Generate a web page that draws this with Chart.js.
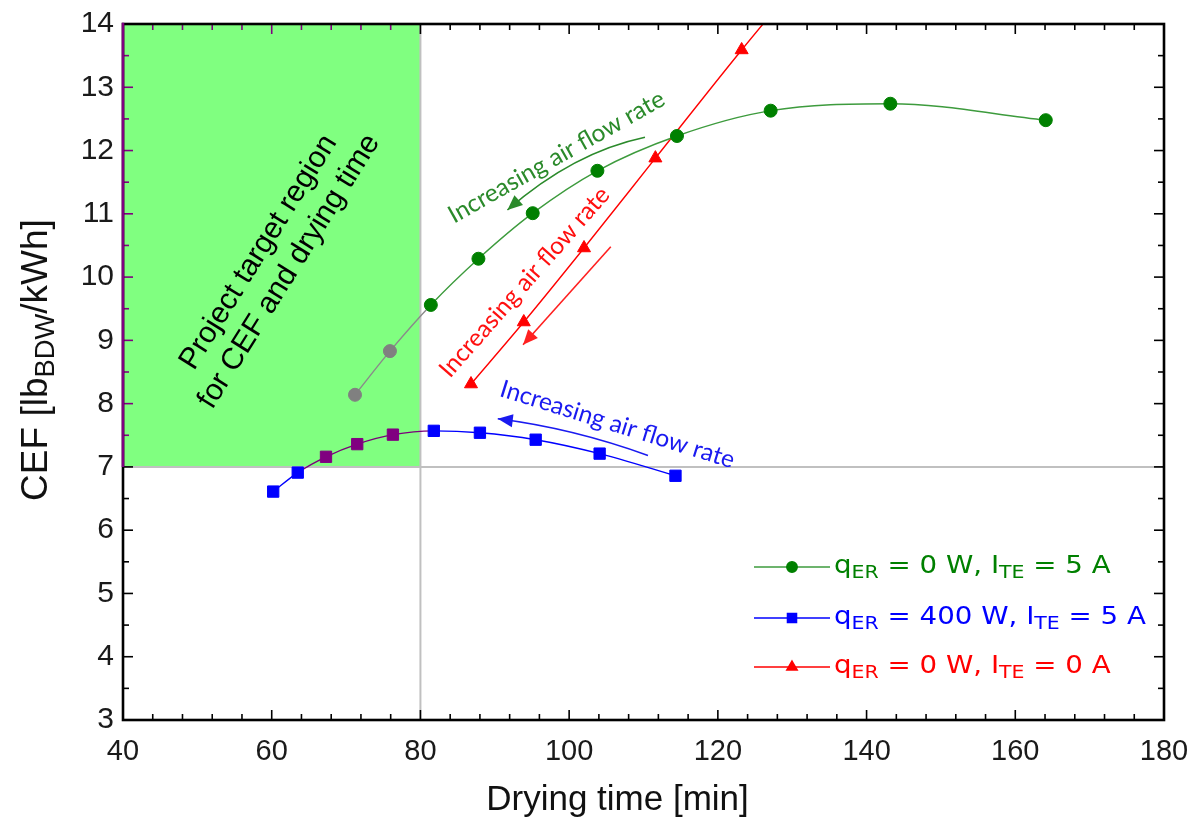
<!DOCTYPE html>
<html>
<head>
<meta charset="utf-8">
<title>CEF vs drying time</title>
<script src="https://cdn.jsdelivr.net/npm/chart.js@4.4.1/dist/chart.umd.min.js"></script>
<style>
  html, body { margin: 0; padding: 0; background: #fff; }
  canvas { display: block; }
</style>
</head>
<body>
<canvas id="cef" width="1189" height="821"></canvas>
<script>
// drying time [min] and CEF [lb_BDW/kWh] for each configuration
const timeTE5 = [71.2, 75.9, 81.4, 87.8, 95.1, 103.8, 114.5, 127.1, 143.2, 164.1];
const cefTE5  = [8.14, 8.83, 9.56, 10.29, 11.01, 11.68, 12.23, 12.63, 12.74, 12.48];

const timeER400 = [60.2, 63.5, 67.3, 71.5, 76.3, 81.8, 88.0, 95.5, 104.1, 114.3];
const cefER400  = [6.61, 6.91, 7.16, 7.36, 7.51, 7.57, 7.54, 7.43, 7.21, 6.86];

const timeTE0 = [86.8, 93.9, 102.0, 111.6, 123.2, 137.5];
const cefTE0  = [8.31, 9.29, 10.46, 11.88, 13.59, 15.6];

// legend labels: [text, subscript?]
const labelTE5   = [['q', 0], ['ER', 1], [' = 0 W, I', 0], ['TE', 1], [' = 5 A', 0]];
const labelER400 = [['q', 0], ['ER', 1], [' = 400 W, I', 0], ['TE', 1], [' = 5 A', 0]];
const labelTE0   = [['q', 0], ['ER', 1], [' = 0 W, I', 0], ['TE', 1], [' = 0 A', 0]];

// project target: drying time <= 80 min and CEF >= 7
const targetTime = 80;
const targetCef = 7;

const xRange = { min: 40, max: 180, step: 20, minor: 4 };
const yRange = { min: 3, max: 14, step: 1, minor: 0.5 };

const SANS = '"Liberation Sans", Arial, sans-serif';
const NOTE = 'Lato, "Open Sans", sans-serif';
const LEG = '"DejaVu Sans", sans-serif';

const inTarget = (x, y) => x <= targetTime && y >= targetCef;
const pts = (xs, ys) => xs.map((x, i) => ({ x, y: ys[i] }));

function segColor(base, alt) {
  return ctx => {
    const a = ctx.p0.parsed, b = ctx.p1.parsed;
    return (inTarget(a.x, a.y) || inTarget(b.x, b.y)) ? alt : base;
  };
}

const series = [
  {
    data: pts(timeTE5, cefTE5), label: labelTE5, text: '#008000',
    line: '#3d9b3d', mark: '#008000', alt: '#8a8a8a', altMark: '#808080',
    style: 'circle', radius: 6.5
  },
  {
    data: pts(timeER400, cefER400), label: labelER400, text: '#0000ff',
    line: '#0000ff', mark: '#0000ff', alt: '#7a007a', altMark: '#800080',
    style: 'rect', radius: 8
  },
  {
    data: pts(timeTE0, cefTE0), label: labelTE0, text: '#ff0000',
    line: '#ff0000', mark: '#ff0000', alt: '#ff0000', altMark: '#ff0000',
    style: 'triangle', radius: 7.5
  }
];

// text and arrows placed in data coordinates
const notes = [
  { lines: ['Increasing air flow rate'], at: [98.3, 11.9], angle: -29.4, color: '#2b8a2b', font: '24.5px ' + NOTE },
  { lines: ['Increasing air flow rate'], at: [94.0, 9.92], angle: -48.7, color: '#ff1010', font: '24.5px ' + NOTE },
  { lines: ['Increasing air flow rate'], at: [106.5, 7.67], angle: 17.3, color: '#1a1af0', font: '24.5px ' + NOTE },
  { lines: ['Project target region', 'for CEF and drying time'], at: [60.3, 10.24], angle: -58, color: '#000', font: '30px ' + SANS, lh: 36 }
];
const arrows = [
  { from: [110.2, 12.21], via: [100.55, 11.97], to: [91.7, 11.06], color: '#2b8a2b' },
  { from: [105.6, 10.48], to: [93.8, 8.93], color: '#ff2020' },
  { from: [110.6, 7.18], via: [100.5, 7.61], to: [90.4, 7.76], color: '#1a1af0' }
];

const targetRegion = {
  id: 'targetRegion',
  beforeDatasetsDraw(chart) {
    const { ctx, chartArea: a, scales: { x, y } } = chart;
    const px = x.getPixelForValue(targetTime), py = y.getPixelForValue(targetCef);
    ctx.save();
    ctx.fillStyle = '#80ff80';
    ctx.fillRect(a.left, a.top, px - a.left, py - a.top);
    ctx.strokeStyle = '#c0c0c0';
    ctx.lineWidth = 2;
    ctx.beginPath();
    ctx.moveTo(px, a.top); ctx.lineTo(px, a.bottom);
    ctx.moveTo(a.left, py); ctx.lineTo(a.right, py);
    ctx.stroke();
    ctx.restore();
  }
};

function arrowHead(ctx, tip, dir, len, half) {
  const n = Math.hypot(dir[0], dir[1]);
  const ux = dir[0] / n, uy = dir[1] / n;
  ctx.beginPath();
  ctx.moveTo(tip[0], tip[1]);
  ctx.lineTo(tip[0] - ux * len - uy * half, tip[1] - uy * len + ux * half);
  ctx.lineTo(tip[0] - ux * len + uy * half, tip[1] - uy * len - ux * half);
  ctx.closePath();
  ctx.fill();
}

const annotations = {
  id: 'annotations',
  afterDatasetsDraw(chart) {
    const { ctx, scales: { x, y } } = chart;
    const P = v => [x.getPixelForValue(v[0]), y.getPixelForValue(v[1])];
    ctx.save();
    arrows.forEach(ar => {
      const f = P(ar.from), t = P(ar.to);
      ctx.strokeStyle = ar.color; ctx.fillStyle = ar.color; ctx.lineWidth = 1.6;
      let dir;
      ctx.beginPath();
      ctx.moveTo(f[0], f[1]);
      if (ar.via) {
        const c = P(ar.via);
        dir = [t[0] - c[0], t[1] - c[1]];
        ctx.quadraticCurveTo(c[0], c[1], t[0], t[1]);
      } else {
        dir = [t[0] - f[0], t[1] - f[1]];
        ctx.lineTo(t[0], t[1]);
      }
      ctx.stroke();
      arrowHead(ctx, t, dir, 15, 6.5);
    });
    notes.forEach(n => {
      const c = P(n.at);
      ctx.save();
      ctx.translate(c[0], c[1]);
      ctx.rotate(n.angle * Math.PI / 180);
      ctx.font = n.font; ctx.fillStyle = n.color;
      ctx.textAlign = 'center'; ctx.textBaseline = 'middle';
      const lh = n.lh || 0;
      n.lines.forEach((s, i) => ctx.fillText(s, 0, (i - (n.lines.length - 1) / 2) * lh));
      ctx.restore();
    });
    ctx.restore();
  }
};

const frameAndTicks = {
  id: 'frameAndTicks',
  afterDraw(chart) {
    const { ctx, chartArea: a, scales: { x, y } } = chart;
    const px = x.getPixelForValue(targetTime), py = y.getPixelForValue(targetCef);
    ctx.save();
    ctx.lineWidth = 1.6;
    const nx = Math.round((xRange.max - xRange.min) / xRange.minor);
    for (let i = 0; i <= nx; i++) {
      const v = xRange.min + i * xRange.minor;
      const len = (v - xRange.min) % xRange.step === 0 ? 10 : 6;
      const p = x.getPixelForValue(v);
      ctx.strokeStyle = '#000';
      ctx.beginPath(); ctx.moveTo(p, a.bottom); ctx.lineTo(p, a.bottom - len); ctx.stroke();
      ctx.strokeStyle = p < px ? '#800080' : '#000';
      ctx.beginPath(); ctx.moveTo(p, a.top); ctx.lineTo(p, a.top + len); ctx.stroke();
    }
    const ny = Math.round((yRange.max - yRange.min) / yRange.minor);
    for (let i = 0; i <= ny; i++) {
      const v = yRange.min + i * yRange.minor;
      const len = i % 2 === 0 ? 10 : 6;
      const p = y.getPixelForValue(v);
      ctx.strokeStyle = p < py ? '#800080' : '#000';
      ctx.beginPath(); ctx.moveTo(a.left, p); ctx.lineTo(a.left + len, p); ctx.stroke();
      ctx.strokeStyle = '#000';
      ctx.beginPath(); ctx.moveTo(a.right, p); ctx.lineTo(a.right - len, p); ctx.stroke();
    }
    ctx.lineWidth = 2.6;
    ctx.strokeStyle = '#000';
    ctx.strokeRect(a.left, a.top, a.right - a.left, a.bottom - a.top);
    ctx.strokeStyle = '#800080';
    ctx.beginPath(); ctx.moveTo(a.left, a.top - 1.3); ctx.lineTo(a.left, py); ctx.stroke();
    ctx.restore();
  }
};

function drawRich(ctx, parts, x0, y0, size, family, color) {
  let cx = x0;
  ctx.fillStyle = color;
  ctx.textBaseline = 'middle';
  ctx.textAlign = 'left';
  parts.forEach(([t, sub]) => {
    const fs = sub ? size * 0.74 : size;
    ctx.font = fs + 'px ' + family;
    ctx.fillText(t, cx, y0 + (sub ? size * 0.26 : 0));
    cx += ctx.measureText(t).width;
  });
  return cx - x0;
}
function richWidth(ctx, parts, size, family) {
  return parts.reduce((w, [t, sub]) => {
    ctx.font = (sub ? size * 0.74 : size) + 'px ' + family;
    return w + ctx.measureText(t).width;
  }, 0);
}

const titlesAndLegend = {
  id: 'titlesAndLegend',
  afterDraw(chart) {
    const { ctx, chartArea: a } = chart;
    ctx.save();
    // x axis title
    ctx.font = '35px ' + SANS;
    ctx.fillStyle = '#111';
    ctx.textAlign = 'center'; ctx.textBaseline = 'middle';
    ctx.fillText('Drying time [min]', (a.left + a.right) / 2 - 26, a.bottom + 80);
    // y axis title with subscript
    const yt = [['CEF [lb', 0], ['BDW', 1], ['/kWh]', 0]];
    ctx.save();
    ctx.translate(37, (a.top + a.bottom) / 2 - 12);
    ctx.rotate(-Math.PI / 2);
    const w = richWidth(ctx, yt, 37, SANS);
    drawRich(ctx, yt, -w / 2, 0, 37, SANS, '#111');
    ctx.restore();
    // legend, text slightly widened
    const rows = [a.bottom - 153, a.bottom - 102, a.bottom - 53];
    series.forEach((s, i) => {
      const ry = rows[i];
      const x0 = a.right - 410;
      ctx.strokeStyle = s.line; ctx.lineWidth = 1.5;
      ctx.beginPath(); ctx.moveTo(x0, ry); ctx.lineTo(x0 + 76, ry); ctx.stroke();
      ctx.fillStyle = s.mark; ctx.strokeStyle = s.mark;
      Chart.helpers.drawPoint(ctx, { pointStyle: s.style, radius: s.radius * 0.8, rotation: 0, borderWidth: 1 }, x0 + 38, ry);
      ctx.save();
      ctx.translate(x0 + 80, ry);
      ctx.scale(1.13, 1);
      drawRich(ctx, s.label, 0, 0, 24.5, LEG, s.text);
      ctx.restore();
    });
    ctx.restore();
  }
};

const datasets = series.map(s => ({
  data: s.data,
  showLine: true,
  borderColor: s.line,
  borderWidth: 1.4,
  cubicInterpolationMode: 'monotone',
  segment: { borderColor: segColor(s.line, s.alt) },
  pointStyle: s.style,
  pointRadius: s.radius,
  pointBorderWidth: 1,
  pointBackgroundColor: s.data.map(p => inTarget(p.x, p.y) ? s.altMark : s.mark),
  pointBorderColor: s.data.map(p => inTarget(p.x, p.y) ? s.altMark : s.mark)
}));

new Chart(document.getElementById('cef'), {
  type: 'scatter',
  data: { datasets },
  options: {
    responsive: false,
    animation: false,
    events: [],
    layout: { padding: { top: 24, right: 25, left: 0, bottom: 0 } },
    plugins: { legend: { display: false }, tooltip: { enabled: false } },
    scales: {
      x: {
        type: 'linear', min: xRange.min, max: xRange.max,
        grid: { display: false, drawTicks: false },
        border: { display: false },
        ticks: { stepSize: xRange.step, padding: 15, color: '#1a1a1a', font: { family: SANS, size: 29 } },
        afterFit: s => { s.height = 101; s.paddingLeft = 0; s.paddingRight = 0; }
      },
      y: {
        type: 'linear', min: yRange.min, max: yRange.max,
        grid: { display: false, drawTicks: false },
        border: { display: false },
        ticks: { stepSize: yRange.step, padding: 9, color: '#1a1a1a', font: { family: SANS, size: 30 } },
        afterFit: s => { s.width = 123; s.paddingTop = 0; s.paddingBottom = 0; }
      }
    }
  },
  plugins: [targetRegion, annotations, frameAndTicks, titlesAndLegend]
});
</script>
</body>
</html>
